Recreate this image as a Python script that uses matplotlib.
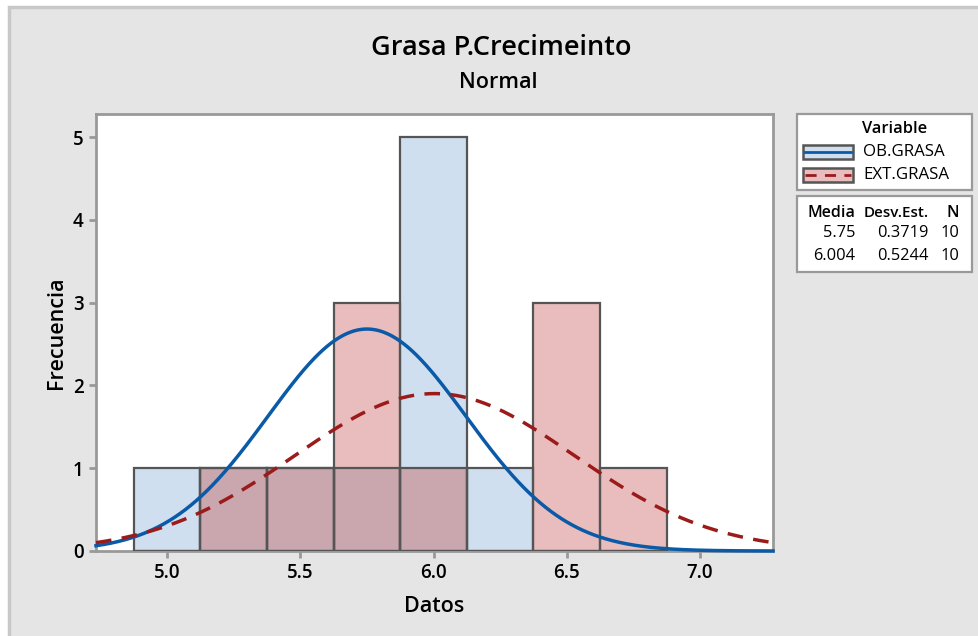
import matplotlib
matplotlib.use("Agg")
import matplotlib.pyplot as plt
from matplotlib.patches import Rectangle
import numpy as np

# histograma de las dos variables (clases de 0.25)
centros = [5.0, 5.25, 5.5, 5.75, 6.0, 6.25, 6.5, 6.75]
ob_grasa = [1, 1, 1, 1, 5, 1, 0, 0]
ext_grasa = [0, 1, 1, 3, 1, 0, 3, 1]
variables = ["OB.GRASA", "EXT.GRASA"]
medias = [5.75, 6.004]
desv = [0.3719, 0.5244]
n_obs = [10, 10]
ancho = 0.25

plt.rcParams['font.family'] = ['Open Sans', 'DejaVu Sans']

c_azul, c_rojo, c_mix = "#cfdff0", "#e9bdbd", "#caa6ae"
l_azul, l_rojo = "#0a5aa8", "#9b1b1b"
borde = "#555555"

fig = plt.figure(figsize=(9.79, 6.36), dpi=100)
fig.patch.set_facecolor("white")
W, H = 979, 636

fig.patches.append(Rectangle((9 / W, -0.05), 1.0, 1 - 7 / H + 0.05,
                             transform=fig.transFigure, facecolor="#e5e5e5",
                             edgecolor="#c8c8c8", lw=2.5, zorder=-10))

ax = fig.add_axes([96 / W, 1 - 551 / H, (773 - 96) / W, (551 - 114) / H])
ax.set_facecolor("white")

ob = np.array(ob_grasa)
ext = np.array(ext_grasa)
mix = np.minimum(ob, ext)
ax.bar(centros, ob, width=ancho, color=c_azul, zorder=1)
ax.bar(centros, ext, width=ancho, color=c_rojo, zorder=2)
ax.bar(centros, mix, width=ancho, color=c_mix, edgecolor="#6a6a6a", lw=0.5, zorder=3)
ax.bar(centros, ob, width=ancho, fill=False, edgecolor=borde, lw=1.6, zorder=4)
ax.bar(centros, ext, width=ancho, fill=False, edgecolor=borde, lw=1.6, zorder=4)

x = np.linspace(4.733, 7.274, 500)
for m, s, n, col, ls in zip(medias, desv, n_obs, [l_azul, l_rojo], ["-", (0, (4.5, 3))]):
    y = n * ancho / (s * np.sqrt(2 * np.pi)) * np.exp(-0.5 * ((x - m) / s) ** 2)
    ax.plot(x, y, color=col, lw=2.5, ls=ls, zorder=5, clip_on=False)

ax.set_xlim(4.733, 7.274)
ax.set_ylim(0, 5.28)
ax.set_xticks([5.0, 5.5, 6.0, 6.5, 7.0])
ax.set_xticklabels(["5.0", "5.5", "6.0", "6.5", "7.0"])
ax.set_yticks(range(6))
for sp in ax.spines.values():
    sp.set_color("#999999")
    sp.set_linewidth(2)
ax.tick_params(colors="#999999", labelcolor="black", length=5, width=2,
               labelsize=13.5, pad=4)
for t in ax.get_xticklabels() + ax.get_yticklabels():
    t.set_fontweight("semibold")
ax.set_xlabel("Datos", fontsize=15.5, fontweight="semibold", labelpad=9)
ax.set_ylabel("Frecuencia", fontsize=15.5, fontweight="semibold", labelpad=4)

fig.text(501 / W, 1 - 48 / H, "Grasa P.Crecimeinto", ha="center", va="center",
         fontsize=19.5, fontweight="semibold")
fig.text(498 / W, 1 - 82 / H, "Normal", ha="center", va="center",
         fontsize=15.5, fontweight="semibold")

# cuadro de leyenda
def caja(x0, y0, x1, y1):
    fig.patches.append(Rectangle((x0 / W, 1 - y1 / H), (x1 - x0) / W, (y1 - y0) / H,
                                 transform=fig.transFigure, facecolor="white",
                                 edgecolor="#999999", lw=1.6, zorder=1))

caja(797, 114, 972, 190)
caja(797, 196, 972, 272)
fs = 11
fig.text(895 / W, 1 - 129 / H, "Variable", ha="center", va="center", fontsize=11.8,
         fontweight="semibold")
for i, (nombre, fc, lc, ls) in enumerate(zip(variables, [c_azul, c_rojo], [l_azul, l_rojo],
                                             ["-", (0, (4, 3))])):
    yc = 152 + i * 23
    fig.patches.append(Rectangle((803 / W, 1 - (yc + 7) / H), 50 / W, 14 / H,
                                 transform=fig.transFigure, facecolor=fc,
                                 edgecolor=borde, lw=1.8, zorder=2))
    fig.lines.append(plt.Line2D([805 / W, 851 / W], [1 - yc / H, 1 - yc / H],
                                transform=fig.transFigure, color=lc, lw=2, ls=ls, zorder=3))
    fig.text(863 / W, 1 - yc / H, nombre, ha="left", va="center", fontsize=12.2)

fig.text(855 / W, 1 - 213 / H, "Media", ha="right", va="center", fontsize=fs + 0.5, fontweight="semibold")
fig.text(929 / W, 1 - 213 / H, "Desv.Est.", ha="right", va="center", fontsize=fs, fontweight="semibold")
fig.text(959 / W, 1 - 213 / H, "N", ha="right", va="center", fontsize=fs + 0.5, fontweight="semibold")
for i, (m, s, n) in enumerate(zip(medias, desv, n_obs)):
    yc = 233 + i * 23
    fig.text(855 / W, 1 - yc / H, f"{m:g}", ha="right", va="center", fontsize=fs + 0.8)
    fig.text(929 / W, 1 - yc / H, f"{s:.4f}", ha="right", va="center", fontsize=fs + 0.8)
    fig.text(959 / W, 1 - yc / H, str(n), ha="right", va="center", fontsize=fs + 0.8)

fig.savefig("out.png", dpi=100)
